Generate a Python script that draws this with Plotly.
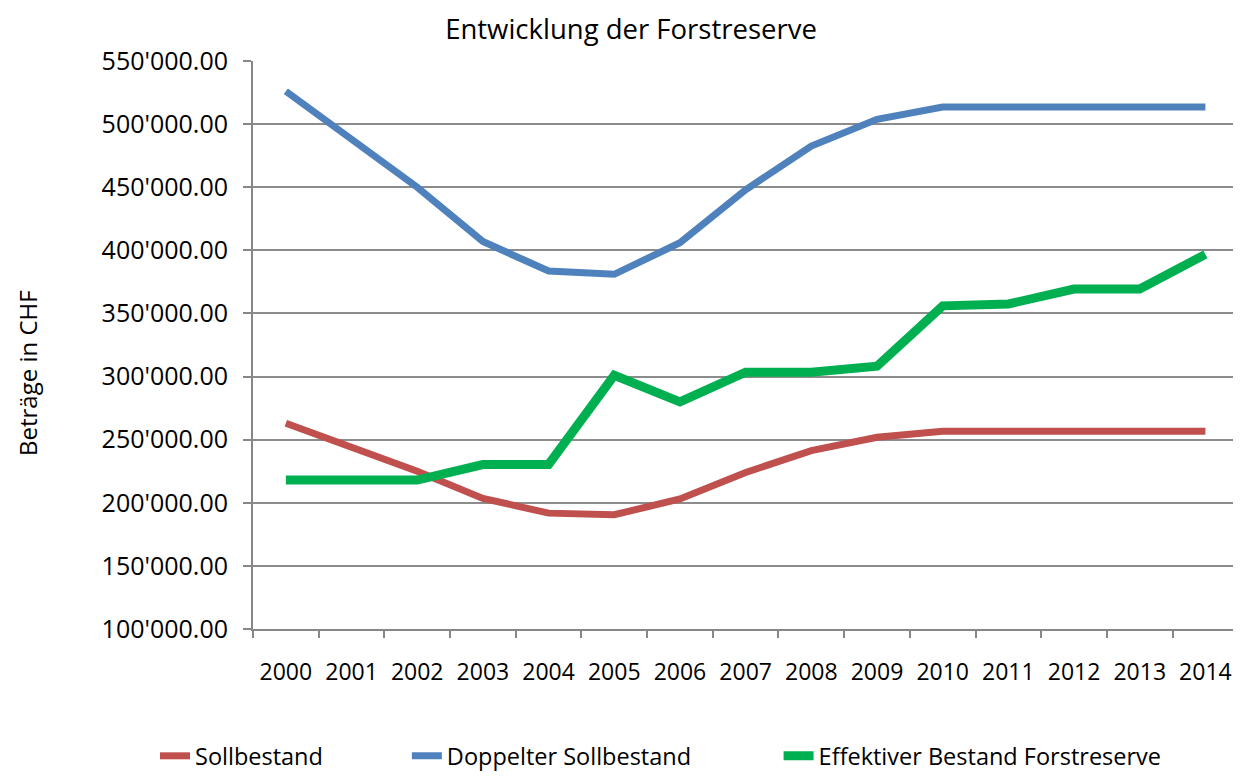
import plotly.graph_objects as go

years = [str(y) for y in range(2000, 2015)]
soll = [263000, 244000, 225000, 203500, 191800, 190500, 203000, 224000, 241300,
        251900, 256750, 256750, 256750, 256750, 256750]
doppelt = [526000, 488000, 450000, 407000, 383600, 381000, 406000, 448000, 482600,
           503800, 513500, 513500, 513500, 513500, 513500]
effektiv = [218000, 218000, 218000, 230300, 230300, 301000, 280000, 303500, 303500,
            308200, 356000, 357500, 369300, 369300, 396800]

FONT = "Open Sans"
fig = go.Figure()
fig.add_trace(go.Scatter(x=years, y=soll, mode="lines", name="Sollbestand",
                         line=dict(color="#C0504D", width=7), legend="legend"))
fig.add_trace(go.Scatter(x=years, y=doppelt, mode="lines", name="Doppelter Sollbestand",
                         line=dict(color="#4F81BD", width=7), legend="legend2"))
fig.add_trace(go.Scatter(x=years, y=effektiv, mode="lines", name="Effektiver Bestand Forstreserve",
                         line=dict(color="#00B050", width=9), legend="legend3"))

leg_common = dict(orientation="h", yref="container", y=0.026, yanchor="middle", xanchor="left",
                  font=dict(size=23.5, family=FONT, color="black"), bgcolor="rgba(0,0,0,0)")

fig.update_layout(
    width=1225, height=768,
    paper_bgcolor="white", plot_bgcolor="white",
    margin=dict(l=245, r=0, t=53, b=147),
    separators=".'",
    font=dict(family=FONT, color="black"),
    title=dict(text="Entwicklung der Forstreserve", x=0.5086, xanchor="center",
               y=0.972, yanchor="middle", font=dict(size=27.5, family=FONT, color="black")),
    showlegend=True,
    legend=dict(x=-0.1, **leg_common),
    legend2=dict(x=0.157, **leg_common),
    legend3=dict(x=0.5363, **leg_common),
    annotations=[dict(text="Beträge in CHF", textangle=-90, xref="paper", yref="paper",
                      x=-0.2306, y=0.4507, xanchor="center", yanchor="middle", showarrow=False,
                      font=dict(size=24, family=FONT, color="black"))],
)
fig.update_xaxes(type="category", range=[-0.5, 14.42], showgrid=False,
                 showline=True, linecolor="#878787", linewidth=2,
                 ticks="outside", tickson="boundaries", ticklen=7, tickcolor="#878787", tickwidth=2,
                 tickfont=dict(size=23, family=FONT, color="black"), ticklabelstandoff=21)
fig.update_yaxes(range=[100000, 550000], dtick=50000, tick0=100000, tickformat=",.2f",
                 showgrid=True, gridcolor="#8C8C8C", gridwidth=2,
                 showline=True, linecolor="#878787", linewidth=2, zeroline=False,
                 ticks="outside", ticklen=8, tickcolor="#878787", tickwidth=2,
                 tickfont=dict(size=25, family=FONT, color="black"), ticklabelstandoff=10)
fig.write_html("out.html")
